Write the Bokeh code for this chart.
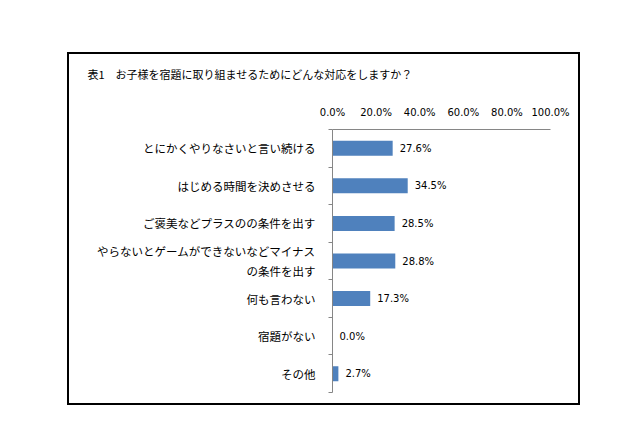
from bokeh.plotting import figure
from bokeh.models import Range1d, FixedTicker, PrintfTickFormatter, LinearAxis, ColumnDataSource
from bokeh.core.properties import value
from bokeh.embed import file_html
from bokeh.resources import INLINE

title_text = "表1　お子様を宿題に取り組ませるためにどんな対応をしますか？"
categories = [
    "とにかくやりなさいと言い続ける",
    "はじめる時間を決めさせる",
    "ご褒美などプラスのの条件を出す",
    "やらないとゲームができないなどマイナス\nの条件を出す",
    "何も言わない",
    "宿題がない",
    "その他",
]
values = [27.6, 34.5, 28.5, 28.8, 17.3, 0.0, 2.7]
x_ticks = [0, 20, 40, 60, 80, 100]

n = len(categories)
ys = [n - 1 - i for i in range(n)]
labels = [f"{v:.1f}%" for v in values]
src = ColumnDataSource(dict(y=ys, v=values, lab=labels))

JP = "Noto Sans CJK JP"

p = figure(width=537, height=377, output_backend="svg", toolbar_location=None,
           x_range=Range1d(0, 100), y_range=Range1d(-0.5, n - 0.5),
           x_axis_location=None, y_axis_location=None,
           min_border_left=277, min_border_right=42, min_border_top=89, min_border_bottom=25)
p.margin = (40, 0, 0, 55)
# black frame line drawn 12px inside the figure's edge
p.styles = {"box-shadow": "inset 0 0 0 12px white, inset 0 0 0 14px black"}
p.outline_line_color = None
p.xgrid.grid_line_color = None
p.ygrid.grid_line_color = None
p.background_fill_color = None
p.border_fill_color = None

p.title.text = title_text
p.title.align = "left"
p.title.offset = -245
p.title.standoff = 44
p.title.text_font = JP
p.title.text_font_size = "11px"
p.title.text_font_style = "normal"
p.title.text_color = "black"

p.hbar(y="y", right="v", left=0, height=0.4, source=src, fill_color="#4F81BD", line_color=None)
p.text(x="v", y="y", text="lab", source=src, x_offset=7, text_baseline="middle", text_align="left",
       text_font=value("DejaVu Sans"), text_font_size="10px", text_color="black")

xaxis = LinearAxis(ticker=FixedTicker(ticks=x_ticks), formatter=PrintfTickFormatter(format="%.1f%%"))
xaxis.axis_line_color = "#868686"
xaxis.major_tick_line_color = None
xaxis.minor_tick_line_color = None
xaxis.major_label_standoff = 6
xaxis.major_label_text_font = "DejaVu Sans"
xaxis.major_label_text_font_size = "10px"
xaxis.major_label_text_color = "black"
p.add_layout(xaxis, "above")

yaxis = LinearAxis(ticker=FixedTicker(ticks=ys, minor_ticks=[i - 0.5 for i in range(n + 1)]))
yaxis.major_label_overrides = {y: c for y, c in zip(ys, categories)}
yaxis.axis_line_color = "#868686"
yaxis.major_tick_line_color = None
yaxis.major_tick_out = 0
yaxis.major_tick_in = 0
yaxis.minor_tick_line_color = "#868686"
yaxis.minor_tick_out = 4
yaxis.minor_tick_in = 0
yaxis.major_label_standoff = 13
yaxis.major_label_text_font = JP
yaxis.major_label_text_font_size = "11.5px"
yaxis.major_label_text_color = "black"
p.add_layout(yaxis, "left")

open("out.html", "w").write(file_html(p, INLINE))
